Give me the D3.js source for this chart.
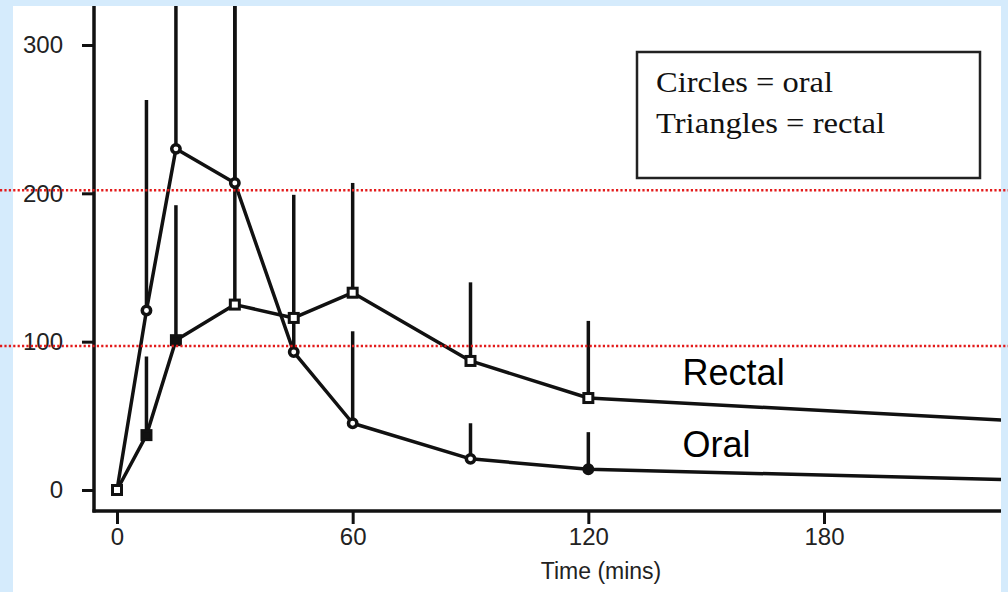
<!DOCTYPE html>
<html>
<head>
<meta charset="utf-8">
<script src="https://cdn.jsdelivr.net/npm/d3@7"></script>
<style>
  html, body { margin: 0; padding: 0; background: #d5ebfc; }
  svg { display: block; }
</style>
</head>
<body>
<svg id="chart" width="1008" height="592"></svg>
<script>
// ---- data ----
const times       = [0, 7.5, 15, 30, 45, 60, 90, 120, 240];
const oral        = [0, 121, 230, 207, 93, 45, 21, 14, 6];
const oralUpper   = [0, 263, 400, 390, 118, 107, 45, 39, null];
const rectal      = [0, 37, 101, 125, 116, 133, 87, 62, 45];
const rectalUpper = [0, 90, 192, 380, 199, 207, 140, 114, null];
const xTicks = [0, 60, 120, 180];
const yTicks = [0, 100, 200, 300];
const refLines = [202, 97];
const legendLines = ["Circles = oral", "Triangles = rectal"];
const seriesLabels = [
  { text: "Rectal", t: 144, v: 71 },
  { text: "Oral",   t: 144, v: 22.5 }
];

// ---- layout ----
const W = 1008, H = 592;
const panel = { x: 13, y: 6, w: 988, h: 586 };
const plotL = 94, plotR = 1001, plotT = 6, plotB = 511;

const x = d3.scaleLinear().domain([0, 180]).range([117, 824]);
const y = d3.scaleLinear().domain([0, 300]).range([490, 45]);

const svg = d3.select("#chart");

svg.append("rect").attr("x", panel.x).attr("y", panel.y)
  .attr("width", panel.w).attr("height", panel.h).attr("fill", "#ffffff");

svg.append("defs").append("clipPath").attr("id", "plotclip")
  .append("rect").attr("x", plotL).attr("y", plotT)
  .attr("width", plotR - plotL).attr("height", plotB - plotT);

const sans = "'Liberation Sans', Arial, Helvetica, sans-serif";
const serif = "'Liberation Serif', 'Times New Roman', serif";

// axes
const yAxis = d3.axisLeft(y).tickValues(yTicks).tickSize(12).tickPadding(19).tickFormat(d3.format("d"));
const gy = svg.append("g").attr("transform", `translate(${plotL},0)`).call(yAxis);
gy.select(".domain").remove();
gy.selectAll(".tick line").attr("x2", -12).attr("stroke", "#111").attr("stroke-width", 3);
gy.selectAll(".tick text").attr("font-family", sans).attr("font-size", 24).attr("fill", "#222");

const xAxis = d3.axisBottom(x).tickValues(xTicks).tickSize(13).tickPadding(4).tickFormat(d3.format("d"));
const gx = svg.append("g").attr("transform", `translate(0,${plotB})`).call(xAxis);
gx.select(".domain").remove();
gx.selectAll(".tick line").attr("stroke", "#111").attr("stroke-width", 3);
gx.selectAll(".tick text").attr("font-family", sans).attr("font-size", 24).attr("fill", "#222");

svg.append("line").attr("x1", plotL).attr("x2", plotL).attr("y1", plotT).attr("y2", plotB + 1.5)
  .attr("stroke", "#111").attr("stroke-width", 3.5);
svg.append("line").attr("x1", plotL - 1.5).attr("x2", plotR).attr("y1", plotB).attr("y2", plotB)
  .attr("stroke", "#111").attr("stroke-width", 3.5);

svg.append("text").attr("x", 601).attr("y", 579).attr("text-anchor", "middle")
  .attr("font-family", sans).attr("font-size", 23).attr("fill", "#222").text("Time (mins)");

// plot content
const g = svg.append("g").attr("clip-path", "url(#plotclip)");

const mk = (vals, ups) => times.map((t, i) => ({ t, v: vals[i], u: ups[i] }));
const oralData = mk(oral, oralUpper);
const rectalData = mk(rectal, rectalUpper);

const line = d3.line().x(d => x(d.t)).y(d => y(d.v));

[oralData, rectalData].forEach(data => {
  g.selectAll(null).data(data.filter(d => d.u != null && d.u > d.v)).enter()
    .append("line")
    .attr("x1", d => x(d.t)).attr("x2", d => x(d.t))
    .attr("y1", d => y(d.v)).attr("y2", d => y(d.u))
    .attr("stroke", "#111").attr("stroke-width", 3.5);
  g.append("path").datum(data).attr("d", line)
    .attr("fill", "none").attr("stroke", "#111").attr("stroke-width", 3.5)
    .attr("stroke-linejoin", "round");
});

// markers: oral circles
g.selectAll(null).data(oralData.filter(d => d.t > 0)).enter()
  .append("circle")
  .attr("cx", d => x(d.t)).attr("cy", d => y(d.v)).attr("r", 4.2)
  .attr("fill", d => d.t === 120 ? "#111" : "#fff")
  .attr("stroke", "#111").attr("stroke-width", 3.5);

// markers: rectal (small open marks)
g.selectAll(null).data(rectalData).enter()
  .append("rect")
  .attr("x", d => x(d.t) - 4.5).attr("y", d => y(d.v) - 4.5)
  .attr("width", 9).attr("height", 9)
  .attr("fill", d => (d.t === 7.5 || d.t === 15) ? "#111" : "#fff")
  .attr("stroke", "#111").attr("stroke-width", 3);

// series labels
svg.selectAll(null).data(seriesLabels).enter()
  .append("text")
  .attr("x", d => x(d.t)).attr("y", d => y(d.v))
  .attr("font-family", sans).attr("font-size", 36).attr("fill", "#000")
  .text(d => d.text);

// legend box
svg.append("rect").attr("x", 637).attr("y", 52).attr("width", 343).attr("height", 126)
  .attr("fill", "#fff").attr("stroke", "#222").attr("stroke-width", 2.5);
svg.selectAll(null).data(legendLines).enter()
  .append("text")
  .attr("x", 656).attr("y", (d, i) => 92 + i * 41)
  .attr("font-family", serif).attr("font-size", 30).attr("fill", "#111")
  .attr("textLength", (d, i) => i === 0 ? 177 : 229).attr("lengthAdjust", "spacingAndGlyphs")
  .text(d => d);

// red dotted reference lines (full width)
svg.selectAll(null).data(refLines).enter()
  .append("line")
  .attr("x1", 0).attr("x2", W)
  .attr("y1", d => y(d)).attr("y2", d => y(d))
  .attr("stroke", "#e31a1a").attr("stroke-width", 2.5)
  .attr("stroke-dasharray", "2.2,2.2");
</script>
</body>
</html>
